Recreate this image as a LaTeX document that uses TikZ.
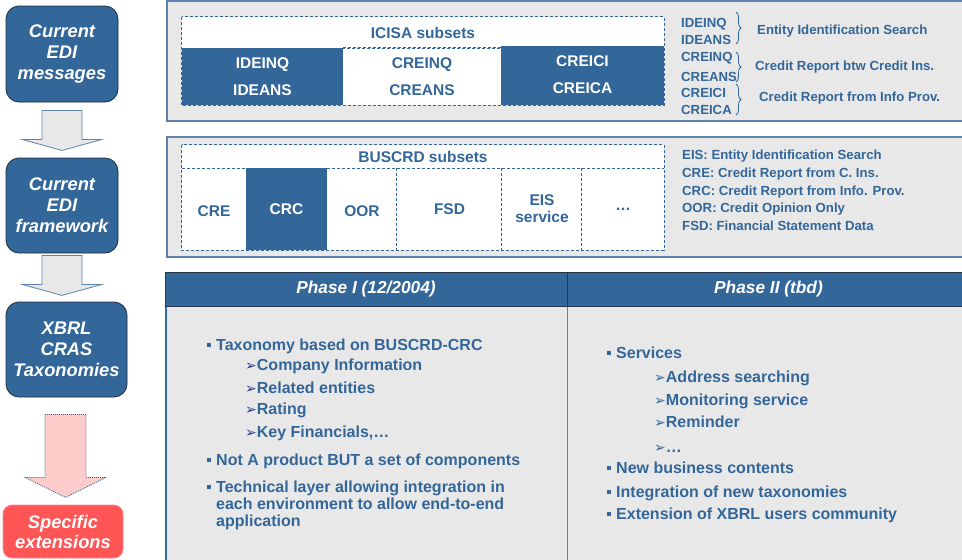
\documentclass[tikz,border=0pt]{standalone}
\usepackage{fontspec}
\setmainfont{Liberation Sans}
\newfontfamily\symfont{DejaVu Sans}
\usetikzlibrary{calc,decorations.pathreplacing}

\definecolor{ink}{RGB}{51,102,153}
\definecolor{panelgray}{RGB}{232,232,232}
\definecolor{paneledge}{RGB}{95,130,170}
\definecolor{stageedge}{RGB}{30,45,65}
\definecolor{redfill}{RGB}{255,85,85}
\definecolor{rededge}{RGB}{255,140,140}
\definecolor{pinkfill}{RGB}{255,204,204}
\definecolor{headedge}{RGB}{40,55,75}
\definecolor{arrI}{RGB}{35,60,140}

\newcommand\sqbul{\textcolor{ink}{\rule[3.7pt]{4pt}{4pt}}\hspace{5pt}}
\newcommand\subarrow[1]{\textcolor{#1}{\symfont\fontsize{14}{14}\selectfont ➢}}

\begin{document}
\begin{tikzpicture}[x=1pt,y=-1pt,
  stage/.style={rounded corners=13pt, fill=ink, draw=stageedge, line width=0.8pt,
    text=white, font=\fontsize{18.3}{21}\selectfont\bfseries\itshape,
    align=center, inner sep=0pt},
  redstage/.style={rounded corners=9pt, fill=redfill, draw=rededge, line width=0.8pt,
    text=white, font=\fontsize{18.3}{20}\selectfont\bfseries\itshape,
    align=center, inner sep=0pt},
  grayarrow/.style={fill=panelgray, draw=paneledge, line width=0.8pt},
  pinkarrow/.style={fill=pinkfill, draw=ink, line width=0.8pt, dash pattern=on 1pt off 1pt},
  panel/.style={fill=panelgray, draw=paneledge, line width=1.3pt},
  dashline/.style={draw=ink, line width=0.8pt, dash pattern=on 3pt off 2pt},
  bluecell/.style={fill=ink, text=white, inner sep=0pt, align=center,
    font=\fontsize{15.5}{27}\selectfont\bfseries},
  whitecell/.style={fill=white, text=ink, inner sep=0pt, align=center,
    font=\fontsize{15.5}{17}\selectfont\bfseries},
  legend/.style={anchor=base west, inner sep=0pt, text=ink,
    font=\fontsize{13.2}{15}\selectfont\bfseries},
  bracket/.style={draw=ink, line width=0.8pt, decorate, decoration={brace, amplitude=5pt}},
  phasehead/.style={fill=ink, draw=headedge, line width=0.9pt, text=white, inner sep=0pt,
    font=\fontsize{17.3}{20}\selectfont\bfseries\itshape},
  item/.style={anchor=base west, inner sep=0pt, text=ink,
    font=\fontsize{16}{18}\selectfont\bfseries}
]
\useasboundingbox (0,0) rectangle (962,560);

% ---------- left column: stages ----------
\node[stage, minimum width=112pt, minimum height=96pt] (m1) at (62,54) {Current\\EDI\\messages};
\node[stage, minimum width=112pt, minimum height=95pt] (m2) at (62,205.5) {Current\\EDI\\framework};
\node[stage, minimum width=121pt, minimum height=95pt] (m3) at (66.5,349.5) {XBRL\\CRAS\\Taxonomies};
\node[redstage, minimum width=120pt, minimum height=53pt] (m4) at (63,531.5) {Specific\\extensions};

% block arrows between stages
\draw[grayarrow] ($(m1.south)+(-20,8)$) -- ++(40,0) -- ++(0,29) -- ++(20,0)
  -- ($(m1.south)+(0,48)$) -- ($(m1.south)+(-40,37)$) -- ++(20,0) -- cycle;
\draw[grayarrow] ($(m2.south)+(-20,2)$) -- ++(40,0) -- ++(0,29) -- ++(20,0)
  -- ($(m2.south)+(0,42)$) -- ($(m2.south)+(-40,31)$) -- ++(20,0) -- cycle;
\draw[pinkarrow] ($(m3.south)+(-21.5,17)$) -- ++(41,0) -- ++(0,63) -- ++(20,0)
  -- ($(m3.south)+(-1,100)$) -- ($(m3.south)+(-41.5,80)$) -- ++(20,0) -- cycle;

% ---------- ICISA panel ----------
\path[panel] (167,1) rectangle (975,121);
\node[whitecell, minimum width=482pt, minimum height=31pt] (ih) at (423,32.5) {ICISA subsets};
\node[bluecell, minimum width=161pt, minimum height=57pt] (ic1) at (262.5,76.5) {IDEINQ\\IDEANS};
\node[whitecell, minimum width=158pt, minimum height=57pt, font=\fontsize{15.5}{27}\selectfont\bfseries] (ic2) at (422,76.5) {CREINQ\\CREANS};
\node[bluecell, minimum width=163pt, minimum height=57pt] (ic3) at (582.5,75) {CREICI\\CREICA};
\draw[dashline] (ih.north west) rectangle (ic3.south east |- ic1.south);
\draw[dashline] (ih.south west) -- (ih.south east);
\draw[dashline] (ic2.north west) -- (ic2.north east);
\draw[dashline] (ic2.south west) -- (ic2.south east);
\fill[ink] (ic3.north west) rectangle (ic3.south east |- ic1.south);
\node[bluecell] (ic3t) at (ic3) {CREICI\\CREICA};

\node[legend] (la1) at (681,27.7) {IDEINQ};
\node[legend] (la2) at (681,44.7) {IDEANS};
\node[legend] (lb1) at (681,61.7) {CREINQ};
\node[legend] (lb2) at (681,81.7) {CREANS};
\node[legend] (lc1) at (681,97.7) {CREICI};
\node[legend] (lc2) at (681,114.7) {CREICA};
\draw[bracket] (736,12) -- (736,44);
\draw[bracket] (736,52) -- (736,82);
\draw[bracket] (736,84) -- (736,115);
\node[legend] (da) at (757,34.7) {Entity Identification Search};
\node[legend] (db) at (755,70.7) {Credit Report btw Credit Ins.};
\node[legend] (dc) at (759,101.7) {Credit Report from Info Prov.};

% ---------- BUSCRD panel ----------
\path[panel] (167,137) rectangle (975,257);
\node[whitecell, minimum width=482pt, minimum height=23pt] (bh) at (423,156.5) {BUSCRD subsets};
\fill[white] (182,168) rectangle (664,250);
\node[whitecell, fill=none, minimum width=64pt, minimum height=82pt] (b1) at (214,211) {CRE};
\node[bluecell, minimum width=81pt, minimum height=82pt] (b2) at (286.5,209) {CRC};
\node[whitecell, fill=none, minimum width=70pt, minimum height=82pt] (b3) at (362,211) {OOR};
\node[whitecell, fill=none, minimum width=105pt, minimum height=82pt] (b4) at (449.5,209) {FSD};
\node[whitecell, fill=none, minimum width=80pt, minimum height=82pt] (b5) at (542,209) {EIS\\service};
\node[whitecell, fill=none, minimum width=82pt, minimum height=82pt] (b6) at (623,209) {\dots};
\draw[dashline] (bh.north west) rectangle (b6.south east);
\draw[dashline] (bh.south west) -- (bh.south east);
\draw[dashline] (b4.north west) -- (b4.south west);
\draw[dashline] (b5.north west) -- (b5.south west);
\draw[dashline] (b6.north west) -- (b6.south west);

\node[legend] (e1) at (682,159) {EIS: Entity Identification Search};
\node[legend] (e2) at (682,177.5) {CRE: Credit Report from C. Ins.};
\node[legend] (e3) at (682,195) {CRC: Credit Report from Info. Prov.};
\node[legend] (e4) at (682,212.5) {OOR: Credit Opinion Only};
\node[legend] (e5) at (682,230) {FSD: Financial Statement Data};

% ---------- phases table ----------
\fill[panelgray] (165,306) rectangle (975,565);
\draw[ink, line width=1.3pt] (166,306) -- (166,565);
\draw[paneledge, line width=0.8pt] (567,306) -- (567,565);
\node[phasehead, minimum width=402pt, minimum height=34pt] (ph1) at (366,289) {Phase I (12/2004)};
\node[phasehead, minimum width=403pt, minimum height=34pt] (ph2) at (768.5,289) {Phase II (tbd)};
\draw[headedge, line width=1.6pt] (ph1.south west) -- (ph2.south east);

\node[item] (t1)  at (207,350.5) {\sqbul Taxonomy based on BUSCRD-CRC};
\node[item] (t1a) at (245,370.5) {\subarrow{arrI}Company Information};
\node[item] (t1b) at (245,393.5) {\subarrow{arrI}Related entities};
\node[item] (t1c) at (245,414.5) {\subarrow{arrI}Rating};
\node[item] (t1d) at (245,437.5) {\subarrow{arrI}Key Financials,…};
\node[item] (t2)  at (207,465.5) {\sqbul Not A product BUT a set of components};
\node[item] (t3)  at (207,492.5) {\sqbul Technical layer allowing integration in};
\node[item] (t3b) at (216,509.5) {each environment to allow end-to-end};
\node[item] (t3c) at (216,526.5) {application};

\node[item] (u1)  at (607,358.5) {\sqbul Services};
\node[item] (u1a) at (654,382.5) {\subarrow{ink}Address searching};
\node[item] (u1b) at (654,405.5) {\subarrow{ink}Monitoring service};
\node[item] (u1c) at (654,427.5) {\subarrow{ink}Reminder};
\node[item] (u1d) at (654,452)   {\subarrow{ink}…};
\node[item] (u2)  at (607,473.5) {\sqbul New business contents};
\node[item] (u3)  at (607,497.5) {\sqbul Integration of new taxonomies};
\node[item] (u4)  at (607,519.5) {\sqbul Extension of XBRL users community};
\end{tikzpicture}
\end{document}
